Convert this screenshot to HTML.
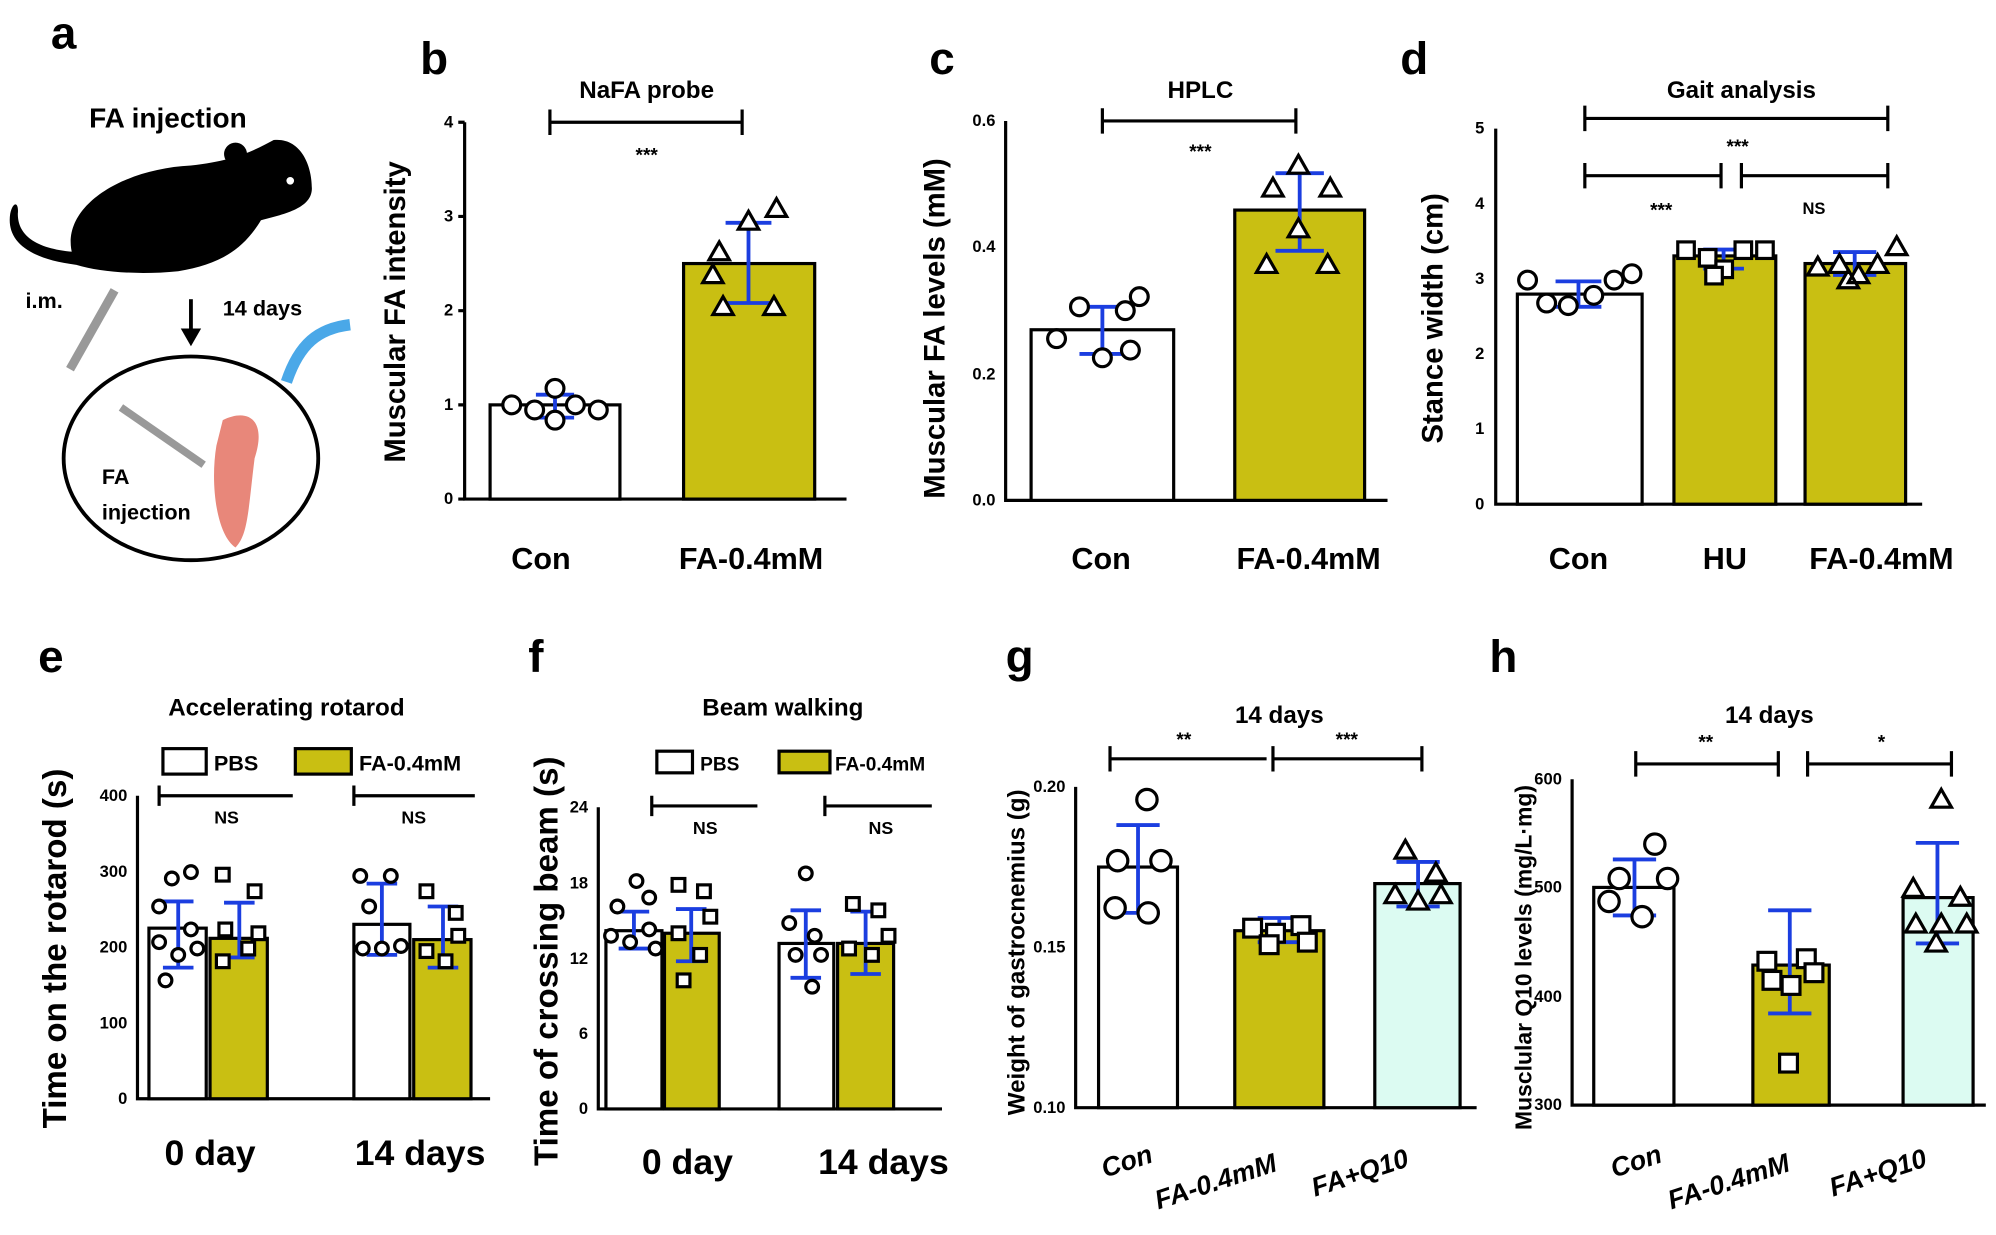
<!DOCTYPE html>
<html><head><meta charset="utf-8"><style>
html,body{margin:0;padding:0;background:#fff}
svg{display:block}
text{font-family:"Liberation Sans",sans-serif;fill:#000}
.ax{stroke:#000;stroke-width:2.5;fill:none}
.bar{stroke:#000;stroke-width:2.5}
.eb{stroke:#1b3ee0;stroke-width:3;fill:none}
.mk{fill:#fff;stroke:#000;stroke-width:2.5}
.tk{font-size:13px;font-weight:bold}
.big{font-size:36px;font-weight:bold}
.xl{font-size:24px;font-weight:bold}
.yl{font-size:23px;font-weight:bold}
.ttl{font-size:19px;font-weight:bold}
.st{font-size:15px;font-weight:bold}
</style></head><body>
<svg width="1996" height="1235" viewBox="0 0 1568 970" preserveAspectRatio="none" xmlns="http://www.w3.org/2000/svg">
<text x="40" y="38" class="big">a</text>
<text x="330" y="58" class="big">b</text>
<text x="730" y="58" class="big">c</text>
<text x="1100" y="58" class="big">d</text>
<text x="30" y="528" class="big">e</text>
<text x="415" y="528" class="big">f</text>
<text x="790" y="528" class="big">g</text>
<text x="1170" y="528" class="big">h</text>

<!-- panel a -->
<text x="70" y="100" font-size="22" font-weight="bold">FA injection</text>
<g transform="translate(0,18)">
<path d="M60 190 C40 150 90 115 150 112 C185 108 200 100 215 92 C235 90 245 110 245 130 C245 145 225 150 205 155 C190 180 170 190 140 195 C110 198 80 196 60 190Z" fill="#000"/>
<path d="M60 190 C20 185 5 170 8 150 C10 140 15 140 14 150 C14 168 30 178 60 180Z" fill="#000"/>
<circle cx="185" cy="103" r="9" fill="#000"/><circle cx="228" cy="124" r="3" fill="#fff"/>
</g>
<line x1="150" y1="235" x2="150" y2="262" stroke="#000" stroke-width="3"/><path d="M142 258 L150 272 L158 258Z" fill="#000"/>
<text x="20" y="242" font-size="17" font-weight="bold">i.m.</text>
<text x="175" y="248" font-size="17" font-weight="bold">14 days</text>
<path d="M55 290 L90 228" stroke="#999" stroke-width="7"/>
<path d="M225 300 C235 270 250 258 275 255" stroke="#4aa8e8" stroke-width="9" fill="none"/>
<ellipse cx="150" cy="360" rx="100" ry="80" fill="#fff" stroke="#000" stroke-width="3"/>
<path d="M95 320 L160 365" stroke="#999" stroke-width="6"/>
<path d="M175 330 C195 320 210 330 200 360 C195 400 195 420 185 430 C170 420 165 380 170 350Z" fill="#e8877a"/>
<text x="80" y="380" font-size="17" font-weight="bold">FA</text>
<text x="80" y="408" font-size="17" font-weight="bold">injection</text>

<!-- panel b -->
<path class="ax" d="M365 96 V392 H665"/>
<g class="tk" text-anchor="end"><text x="356" y="396">0</text><text x="356" y="322">1</text><text x="356" y="248">2</text><text x="356" y="174">3</text><text x="356" y="100">4</text></g>
<path class="ax" d="M360 392H365M360 318H365M360 244H365M360 170H365M360 96H365" stroke-width="2"/>
<rect class="bar" x="385" y="318" width="102" height="74" fill="#fff"/>
<rect class="bar" x="537" y="207" width="103" height="185" fill="#c9bf12"/>
<path class="eb" d="M436 310V328M421 310H451M421 328H451"/>
<path class="eb" d="M588 175V238M570 175H606M570 238H606"/>
<g class="mk"><circle cx="402" cy="318" r="7"/><circle cx="420" cy="322" r="7"/><circle cx="436" cy="305" r="7"/><circle cx="436" cy="330" r="7"/><circle cx="452" cy="318" r="7"/><circle cx="470" cy="322" r="7"/>
<path d="M565 190l8 14h-16zM610 156l8 14h-16zM588 166l8 14h-16zM568 233l8 14h-16zM608 233l8 14h-16zM560 208l8 14h-16z"/></g>
<path class="ax" d="M432 96H583M432 86V106M583 86V106" stroke-width="2"/>
<text x="508" y="77" class="ttl" text-anchor="middle">NaFA probe</text>
<text x="508" y="127" class="st" text-anchor="middle">***</text>
<text x="425" y="447" class="xl" text-anchor="middle">Con</text>
<text x="590" y="447" class="xl" text-anchor="middle">FA-0.4mM</text>
<text transform="translate(318,245) rotate(-90)" class="yl" text-anchor="middle">Muscular FA intensity</text>

<!-- panel c -->
<path class="ax" d="M790 95V393H1090"/>
<g class="tk" text-anchor="end"><text x="782" y="397">0.0</text><text x="782" y="298">0.2</text><text x="782" y="198">0.4</text><text x="782" y="99">0.6</text></g>
<rect class="bar" x="810" y="259" width="112" height="134" fill="#fff"/>
<rect class="bar" x="970" y="165" width="102" height="228" fill="#c9bf12"/>
<path class="eb" d="M866 241V278M848 241H884M848 278H884"/>
<path class="eb" d="M1021 136V197M1002 136H1040M1002 197H1040"/>
<g class="mk"><circle cx="830" cy="266" r="7"/><circle cx="848" cy="241" r="7"/><circle cx="866" cy="281" r="7"/><circle cx="884" cy="244" r="7"/><circle cx="895" cy="233" r="7"/><circle cx="888" cy="275" r="7"/>
<path d="M1000 140l8 14h-16zM1020 122l8 14h-16zM1045 140l8 14h-16zM995 200l8 14h-16zM1043 200l8 14h-16zM1020 172l8 14h-16z"/></g>
<path class="ax" d="M866 95H1018M866 85V105M1018 85V105" stroke-width="2"/>
<text x="943" y="77" class="ttl" text-anchor="middle">HPLC</text>
<text x="943" y="124" class="st" text-anchor="middle">***</text>
<text x="865" y="447" class="xl" text-anchor="middle">Con</text>
<text x="1028" y="447" class="xl" text-anchor="middle">FA-0.4mM</text>
<text transform="translate(742,258) rotate(-90)" class="yl" text-anchor="middle">Muscular FA levels (mM)</text>

<!-- panel d -->
<path class="ax" d="M1175 101V396H1510"/>
<g class="tk" text-anchor="end"><text x="1166" y="400">0</text><text x="1166" y="341">1</text><text x="1166" y="282">2</text><text x="1166" y="223">3</text><text x="1166" y="164">4</text><text x="1166" y="105">5</text></g>
<rect class="bar" x="1192" y="231" width="98" height="165" fill="#fff"/>
<rect class="bar" x="1315" y="201" width="80" height="195" fill="#c9bf12"/>
<rect class="bar" x="1418" y="207" width="79" height="189" fill="#c9bf12"/>
<path class="eb" d="M1240 221V241M1222 221H1258M1222 241H1258"/>
<path class="eb" d="M1354 196V211M1338 196H1370M1338 211H1370"/>
<path class="eb" d="M1457 198V216M1440 198H1474M1440 216H1474"/>
<g class="mk"><circle cx="1200" cy="220" r="7"/><circle cx="1215" cy="238" r="7"/><circle cx="1232" cy="240" r="7"/><circle cx="1252" cy="232" r="7"/><circle cx="1268" cy="220" r="7"/><circle cx="1282" cy="215" r="7"/>
<rect x="1318" y="190" width="13" height="13"/><rect x="1335" y="196" width="13" height="13"/><rect x="1348" y="205" width="13" height="13"/><rect x="1363" y="190" width="13" height="13"/><rect x="1380" y="190" width="13" height="13"/><rect x="1340" y="210" width="13" height="13"/>
<path d="M1428 202l8 14h-16zM1445 200l8 14h-16zM1460 208l8 14h-16zM1475 200l8 14h-16zM1490 186l8 14h-16zM1452 212l8 14h-16z"/></g>
<path class="ax" d="M1245 93H1483M1245 83V103M1483 83V103M1245 138H1352M1245 128V148M1352 128V148M1368 138H1483M1368 128V148M1483 128V148" stroke-width="2"/>
<text x="1368" y="77" class="ttl" text-anchor="middle">Gait analysis</text>
<text x="1365" y="120" class="st" text-anchor="middle">***</text>
<text x="1305" y="170" class="st" text-anchor="middle">***</text>
<text x="1425" y="168" font-size="13" font-weight="bold" text-anchor="middle">NS</text>
<text x="1240" y="447" class="xl" text-anchor="middle">Con</text>
<text x="1355" y="447" class="xl" text-anchor="middle">HU</text>
<text x="1478" y="447" class="xl" text-anchor="middle">FA-0.4mM</text>
<text transform="translate(1133,250) rotate(-90)" class="yl" text-anchor="middle">Stance width (cm)</text>

<!-- panel e -->
<path class="ax" d="M108 625V863H385"/>
<g class="tk" text-anchor="end"><text x="100" y="867">0</text><text x="100" y="808">100</text><text x="100" y="748">200</text><text x="100" y="689">300</text><text x="100" y="629">400</text></g>
<rect class="bar" x="117" y="729" width="45" height="134" fill="#fff"/>
<rect class="bar" x="165" y="737" width="45" height="126" fill="#c9bf12"/>
<rect class="bar" x="278" y="726" width="44" height="137" fill="#fff"/>
<rect class="bar" x="325" y="738" width="45" height="125" fill="#c9bf12"/>
<path class="eb" d="M140 708V760M128 708H152M128 760H152M188 709V752M176 709H200M176 752H200M300 694V750M288 694H312M288 750H312M348 712V760M336 712H360M336 760H360"/>
<g class="mk" stroke-width="2"><circle cx="125" cy="712" r="5"/><circle cx="135" cy="690" r="5"/><circle cx="150" cy="685" r="5"/><circle cx="125" cy="740" r="5"/><circle cx="140" cy="750" r="5"/><circle cx="155" cy="745" r="5"/><circle cx="130" cy="770" r="5"/><circle cx="150" cy="730" r="5"/>
<rect x="170" y="682" width="10" height="10"/><rect x="195" y="695" width="10" height="10"/><rect x="172" y="725" width="10" height="10"/><rect x="190" y="740" width="10" height="10"/><rect x="170" y="750" width="10" height="10"/><rect x="198" y="728" width="10" height="10"/>
<circle cx="283" cy="688" r="5"/><circle cx="307" cy="688" r="5"/><circle cx="285" cy="745" r="5"/><circle cx="300" cy="745" r="5"/><circle cx="315" cy="743" r="5"/><circle cx="290" cy="712" r="5"/>
<rect x="330" y="695" width="10" height="10"/><rect x="353" y="712" width="10" height="10"/><rect x="330" y="742" width="10" height="10"/><rect x="345" y="750" width="10" height="10"/><rect x="355" y="730" width="10" height="10"/></g>
<rect x="128" y="588" width="34" height="20" class="mk"/><text x="168" y="605" font-size="17" font-weight="bold">PBS</text>
<rect x="232" y="588" width="44" height="20" class="bar" fill="#c9bf12"/><text x="282" y="605" font-size="17" font-weight="bold">FA-0.4mM</text>
<path class="ax" d="M125 625H230M125 617V633M278 625H373M278 617V633" stroke-width="2"/>
<text x="178" y="647" font-size="14" font-weight="bold" text-anchor="middle">NS</text>
<text x="325" y="647" font-size="14" font-weight="bold" text-anchor="middle">NS</text>
<text x="225" y="562" class="ttl" text-anchor="middle">Accelerating rotarod</text>
<text x="165" y="915" font-size="28" font-weight="bold" text-anchor="middle">0 day</text>
<text x="330" y="915" font-size="28" font-weight="bold" text-anchor="middle">14 days</text>
<text transform="translate(52,745) rotate(-90)" font-size="26" font-weight="bold" text-anchor="middle">Time on the rotarod (s)</text>

<!-- panel f -->
<path class="ax" d="M470 634V871H740"/>
<g class="tk" text-anchor="end"><text x="462" y="875">0</text><text x="462" y="816">6</text><text x="462" y="757">12</text><text x="462" y="698">18</text><text x="462" y="638">24</text></g>
<rect class="bar" x="476" y="731" width="44" height="140" fill="#fff"/>
<rect class="bar" x="522" y="733" width="43" height="138" fill="#c9bf12"/>
<rect class="bar" x="612" y="741" width="43" height="130" fill="#fff"/>
<rect class="bar" x="658" y="741" width="44" height="130" fill="#c9bf12"/>
<path class="eb" d="M498 716V745M486 716H510M486 745H510M543 714V755M531 714H555M531 755H555M633 715V768M621 715H645M621 768H645M680 716V765M668 716H692M668 765H692"/>
<g class="mk" stroke-width="2"><circle cx="500" cy="692" r="5"/><circle cx="485" cy="712" r="5"/><circle cx="510" cy="705" r="5"/><circle cx="480" cy="735" r="5"/><circle cx="495" cy="740" r="5"/><circle cx="510" cy="730" r="5"/><circle cx="515" cy="745" r="5"/>
<rect x="528" y="690" width="10" height="10"/><rect x="548" y="695" width="10" height="10"/><rect x="528" y="728" width="10" height="10"/><rect x="545" y="745" width="10" height="10"/><rect x="532" y="765" width="10" height="10"/><rect x="553" y="715" width="10" height="10"/>
<circle cx="633" cy="686" r="5"/><circle cx="620" cy="725" r="5"/><circle cx="640" cy="735" r="5"/><circle cx="625" cy="750" r="5"/><circle cx="638" cy="775" r="5"/><circle cx="645" cy="750" r="5"/>
<rect x="665" y="705" width="10" height="10"/><rect x="685" y="710" width="10" height="10"/><rect x="662" y="740" width="10" height="10"/><rect x="680" y="745" width="10" height="10"/><rect x="693" y="730" width="10" height="10"/></g>
<rect x="516" y="590" width="28" height="17" class="mk"/><text x="550" y="605" font-size="15" font-weight="bold">PBS</text>
<rect x="612" y="590" width="40" height="17" class="bar" fill="#c9bf12"/><text x="656" y="605" font-size="15" font-weight="bold">FA-0.4mM</text>
<path class="ax" d="M512 633H595M512 625V641M648 633H732M648 625V641" stroke-width="2"/>
<text x="554" y="655" font-size="14" font-weight="bold" text-anchor="middle">NS</text>
<text x="692" y="655" font-size="14" font-weight="bold" text-anchor="middle">NS</text>
<text x="615" y="562" class="ttl" text-anchor="middle">Beam walking</text>
<text x="540" y="922" font-size="28" font-weight="bold" text-anchor="middle">0 day</text>
<text x="694" y="922" font-size="28" font-weight="bold" text-anchor="middle">14 days</text>
<text transform="translate(438,755) rotate(-90)" font-size="26" font-weight="bold" text-anchor="middle">Time of crossing beam (s)</text>

<!-- panel g -->
<path class="ax" d="M845 618V870H1160"/>
<g class="tk" text-anchor="end"><text x="837" y="874">0.10</text><text x="837" y="748">0.15</text><text x="837" y="622">0.20</text></g>
<rect class="bar" x="863" y="681" width="62" height="189" fill="#fff"/>
<rect class="bar" x="970" y="731" width="70" height="139" fill="#c9bf12"/>
<rect class="bar" x="1080" y="694" width="67" height="176" fill="#dcfbf2"/>
<path class="eb" d="M894 648V717M877 648H911M877 717H911M1005 721V740M988 721H1022M988 740H1022M1114 677V712M1097 677H1131M1097 712H1131"/>
<g class="mk"><circle cx="901" cy="628" r="8"/><circle cx="878" cy="676" r="8"/><circle cx="912" cy="676" r="8"/><circle cx="876" cy="713" r="8"/><circle cx="902" cy="717" r="8"/>
<rect x="977" y="722" width="14" height="14"/><rect x="995" y="726" width="14" height="14"/><rect x="1015" y="720" width="14" height="14"/><rect x="990" y="735" width="14" height="14"/><rect x="1020" y="733" width="14" height="14"/>
<path d="M1104 660l8 14h-16zM1128 678l8 14h-16zM1096 695l8 14h-16zM1132 695l8 14h-16zM1114 700l8 14h-16z"/></g>
<path class="ax" d="M872 596H995M872 586V606M1000 596H1117M1000 586V606M1117 586V606" stroke-width="2"/>
<text x="1005" y="568" class="ttl" text-anchor="middle">14 days</text>
<text x="930" y="586" class="st" text-anchor="middle">**</text>
<text x="1058" y="586" class="st" text-anchor="middle">***</text>
<g font-size="21" font-weight="bold" font-style="italic"><text transform="translate(868,925) rotate(-18)">Con</text><text transform="translate(910,950) rotate(-18)">FA-0.4mM</text><text transform="translate(1033,940) rotate(-18)">FA+Q10</text></g>
<text transform="translate(805,748) rotate(-90)" font-size="19" font-weight="bold" text-anchor="middle">Weight of gastrocnemius (g)</text>

<!-- panel h -->
<path class="ax" d="M1235 612V868H1560"/>
<g class="tk" text-anchor="end"><text x="1227" y="872">300</text><text x="1227" y="787">400</text><text x="1227" y="701">500</text><text x="1227" y="616">600</text></g>
<rect class="bar" x="1252" y="697" width="63" height="171" fill="#fff"/>
<rect class="bar" x="1377" y="758" width="60" height="110" fill="#c9bf12"/>
<rect class="bar" x="1495" y="705" width="55" height="163" fill="#dcfbf2"/>
<path class="eb" d="M1284 675V719M1267 675H1301M1267 719H1301M1406 715V796M1389 715H1423M1389 796H1423M1522 662V741M1505 662H1539M1505 741H1539"/>
<g class="mk"><circle cx="1272" cy="690" r="8"/><circle cx="1300" cy="663" r="8"/><circle cx="1310" cy="690" r="8"/><circle cx="1264" cy="708" r="8"/><circle cx="1290" cy="720" r="8"/>
<rect x="1381" y="748" width="14" height="14"/><rect x="1412" y="746" width="14" height="14"/><rect x="1385" y="763" width="14" height="14"/><rect x="1400" y="767" width="14" height="14"/><rect x="1418" y="757" width="14" height="14"/><rect x="1398" y="828" width="14" height="14"/>
<path d="M1525 620l8 14h-16zM1503 690l8 14h-16zM1540 697l8 14h-16zM1505 718l8 14h-16zM1525 718l8 14h-16zM1545 718l8 14h-16zM1521 733l8 14h-16z"/></g>
<path class="ax" d="M1285 600H1397M1285 590V610M1397 590V610M1420 600H1533M1420 590V610M1533 590V610" stroke-width="2"/>
<text x="1390" y="568" class="ttl" text-anchor="middle">14 days</text>
<text x="1340" y="588" class="st" text-anchor="middle">**</text>
<text x="1478" y="588" class="st" text-anchor="middle">*</text>
<g font-size="21" font-weight="bold" font-style="italic"><text transform="translate(1268,925) rotate(-18)">Con</text><text transform="translate(1313,950) rotate(-18)">FA-0.4mM</text><text transform="translate(1440,940) rotate(-18)">FA+Q10</text></g>
<text transform="translate(1203,752) rotate(-90)" font-size="18" font-weight="bold" text-anchor="middle">Musclular Q10 levels (mg/L·mg)</text>
</svg>
</body></html>
